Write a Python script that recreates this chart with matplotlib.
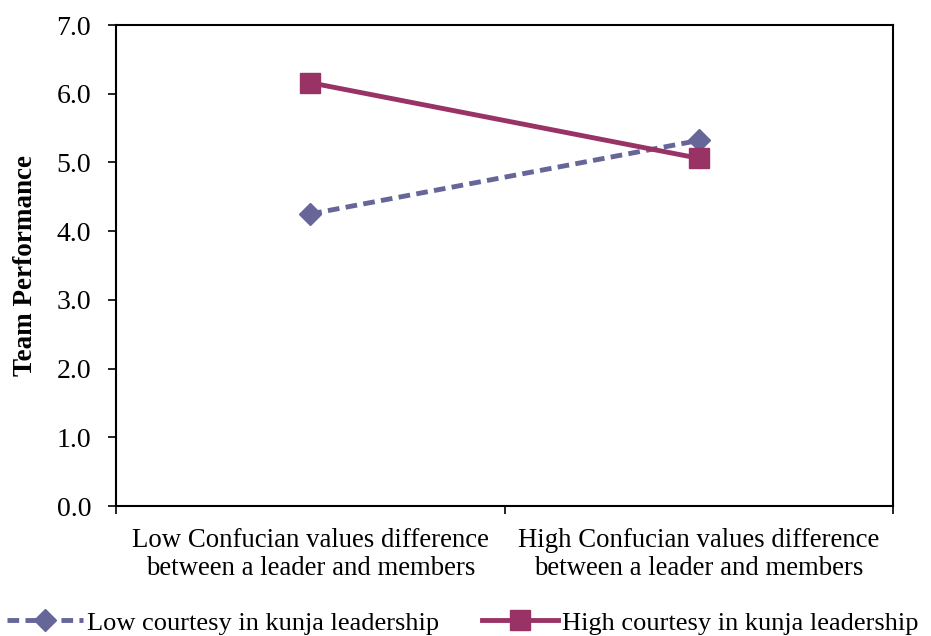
import matplotlib
matplotlib.use("Agg")
import matplotlib.pyplot as plt

# values
categories = ["Low Confucian values difference\nbetween a leader and members",
              "High Confucian values difference\nbetween a leader and members"]
low_courtesy = [4.25, 5.32]
high_courtesy = [6.16, 5.06]
series_names = ["Low courtesy in kunja leadership", "High courtesy in kunja leadership"]
y_ticks = [0.0, 1.0, 2.0, 3.0, 4.0, 5.0, 6.0, 7.0]

plt.rcParams["font.family"] = ["Liberation Serif", "DejaVu Serif"]

fig = plt.figure(figsize=(9.31, 6.36), dpi=100)
ax = fig.add_axes([116 / 931, 1 - 506 / 636, (893 - 116) / 931, (506 - 25) / 636])

x = list(range(len(categories)))
ax.plot(x, low_courtesy, color="#666699", lw=3.5, ls=(0, (2.4, 1.3)),
        marker="D", markersize=11, label=series_names[0])
ax.plot(x, high_courtesy, color="#993366", lw=3.5,
        marker="s", markersize=14.5, label=series_names[1])

ax.set_xlim(-0.5, 1.5)
ax.set_ylim(0, 7)
ax.set_yticks(y_ticks)
ax.set_yticklabels([f"{v:.1f}" for v in y_ticks], fontsize=20)
ax.set_xticks([-0.5, 0.5, 1.5])
ax.set_xticklabels([])
ax.set_xticks(x, minor=True)
ax.set_xticklabels(categories, minor=True, fontsize=19.3, linespacing=1.12)
ax.tick_params(axis="x", which="minor", length=0, pad=16)
ax.tick_params(axis="x", which="major", length=6, direction="out", width=1.2)
ax.tick_params(axis="y", length=6, direction="out", width=1.2, pad=12)
for s in ax.spines.values():
    s.set_linewidth(1.5)

ax.set_ylabel("Team Performance", fontsize=19.5, fontweight="bold", labelpad=13)

fig.legend(loc="lower center", ncol=2, bbox_to_anchor=(0.497, -0.027), frameon=False,
           fontsize=19, handlelength=2.9, handletextpad=0.15, columnspacing=1.6,
           borderaxespad=0.3)

fig.savefig("out.png", dpi=100)
